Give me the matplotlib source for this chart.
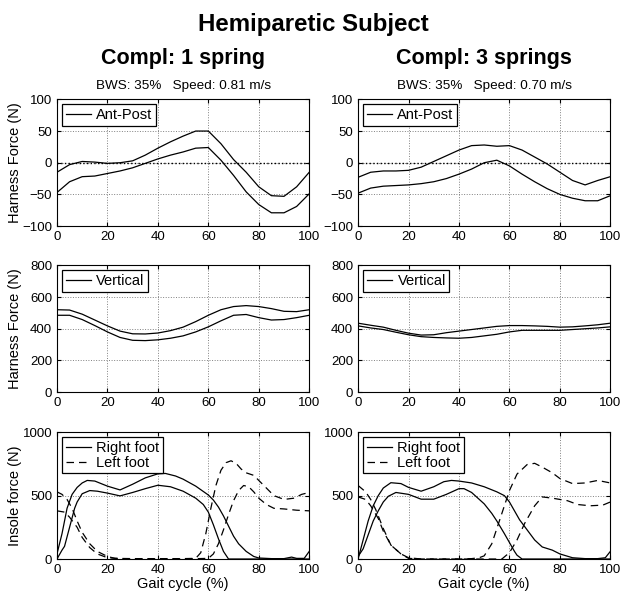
import matplotlib.pyplot as plt

plt.rcParams['font.family'] = ['Liberation Sans', 'DejaVu Sans']

gait = [0, 5, 10, 15, 20, 25, 30, 35, 40, 45, 50, 55, 60, 65, 70, 75, 80, 85, 90, 95, 100]

# harness ant-post force (N), 1 spring / 3 springs
ap1_upper = [-15, -3, 2, 1, -1, 0, 3, 12, 23, 33, 42, 50, 50, 30, 5, -15, -38, -52, -53, -38, -15]
ap1_lower = [-47, -30, -22, -21, -17, -13, -8, -1, 6, 12, 17, 23, 24, 4, -20, -46, -66, -79, -79, -69, -49]
ap2_upper = [-23, -15, -13, -13, -12, -7, 2, 11, 20, 27, 28, 26, 27, 20, 9, -2, -15, -28, -35, -28, -22]
ap2_lower = [-48, -40, -37, -36, -35, -33, -30, -25, -18, -10, 0, 4, -5, -18, -30, -41, -50, -56, -60, -60, -52]

# harness vertical force (N)
vert1_upper = [520, 518, 492, 455, 418, 385, 368, 367, 373, 388, 410, 445, 485, 520, 540, 546, 540, 527, 510, 508, 520]
vert1_lower = [485, 485, 458, 420, 380, 345, 327, 325, 330, 340, 355, 380, 412, 450, 485, 490, 470, 455, 458, 470, 485]
vert2_upper = [435, 422, 410, 390, 372, 360, 362, 375, 385, 395, 405, 415, 420, 420, 418, 415, 410, 412, 418, 425, 435]
vert2_lower = [418, 405, 395, 378, 362, 350, 345, 342, 340, 345, 355, 365, 380, 390, 390, 390, 390, 395, 400, 405, 412]

# insole force (N), 1 spring
r1a_x = [0, 2, 4, 6, 8, 10, 12, 15, 20, 25, 30, 35, 40, 43, 47, 50, 55, 60, 62, 64, 66, 68, 70, 72, 75, 78, 80, 85, 90, 93, 95, 98, 100]
r1a_y = [40, 200, 400, 510, 565, 600, 620, 615, 575, 545, 590, 640, 672, 675, 655, 630, 575, 505, 465, 410, 340, 260, 180, 120, 60, 20, 8, 3, 3, 15, 5, 5, 60]
r1b_x = [0, 2, 3, 5, 7, 8, 10, 13, 16, 20, 25, 30, 35, 40, 45, 50, 55, 58, 60, 62, 64, 66, 68, 80, 100]
r1b_y = [0, 70, 100, 250, 400, 450, 515, 540, 535, 520, 498, 525, 555, 582, 570, 535, 480, 430, 370, 270, 160, 60, 0, 0, 0]
l1a_x = [0, 2, 4, 6, 8, 10, 13, 16, 20, 23, 30, 40, 50, 55, 57, 59, 61, 63, 65, 67, 69, 71, 73, 75, 78, 80, 83, 86, 90, 94, 97, 100]
l1a_y = [530, 510, 470, 400, 300, 210, 120, 60, 20, 5, 3, 3, 3, 5, 50, 200, 400, 580, 700, 760, 775, 755, 710, 680, 660, 620, 560, 500, 470, 480, 510, 525]
l1b_x = [0, 3, 5, 8, 10, 13, 16, 20, 25, 30, 40, 50, 60, 62, 64, 66, 68, 70, 72, 74, 76, 78, 80, 83, 86, 90, 95, 100]
l1b_y = [380, 370, 330, 250, 170, 90, 40, 10, 3, 0, 0, 0, 5, 40, 120, 230, 350, 460, 540, 580, 570, 530, 480, 430, 400, 395, 385, 380]

# insole force (N), 3 springs
r2a_x = [0, 2, 4, 6, 8, 10, 13, 17, 20, 25, 30, 34, 37, 40, 45, 50, 55, 58, 60, 62, 64, 67, 70, 73, 77, 80, 85, 90, 95, 98, 100]
r2a_y = [0, 150, 300, 420, 500, 560, 602, 595, 565, 535, 570, 610, 620, 615, 600, 570, 530, 500, 450, 380, 310, 230, 150, 95, 70, 40, 10, 3, 3, 10, 60]
r2b_x = [0, 2, 4, 6, 8, 10, 12, 15, 20, 25, 30, 35, 40, 42, 45, 50, 53, 55, 58, 60, 62, 63, 65, 80, 100]
r2b_y = [20, 80, 190, 300, 380, 450, 495, 525, 510, 472, 472, 510, 555, 555, 525, 435, 360, 300, 200, 130, 60, 30, 0, 0, 0]
l2a_x = [0, 3, 5, 7, 10, 13, 17, 20, 25, 30, 40, 45, 48, 50, 53, 56, 58, 60, 63, 67, 70, 73, 77, 80, 85, 90, 95, 100]
l2a_y = [580, 530, 470, 390, 240, 110, 40, 5, 0, 0, 0, 3, 10, 25, 120, 300, 420, 540, 670, 745, 755, 725, 680, 635, 595, 600, 620, 600]
l2b_x = [0, 3, 5, 8, 10, 13, 17, 20, 25, 30, 40, 50, 57, 60, 63, 66, 70, 73, 77, 80, 83, 87, 92, 97, 100]
l2b_y = [490, 470, 420, 320, 220, 110, 40, 10, 0, 0, 0, 0, 0, 50, 150, 280, 420, 490, 480, 470, 460, 430, 420, 425, 450]

col_titles = ["Compl: 1 spring", "Compl: 3 springs"]
col_info = ["BWS: 35%   Speed: 0.81 m/s", "BWS: 35%   Speed: 0.70 m/s"]

fig = plt.figure(figsize=(6.26, 5.95), dpi=100)
fig.text(0.5, 0.958, "Hemiparetic Subject", ha='center', va='center', fontsize=17.3, fontweight='bold')

lefts = [0.091, 0.572]
width = 0.403
bottoms = [0.620, 0.341, 0.0605]
height = 0.213
dash = (0, (6, 4))


def style(ax, ylim, yticks):
    ax.set_xlim(0, 100)
    ax.set_ylim(*ylim)
    ax.set_xticks([0, 20, 40, 60, 80, 100])
    ax.set_yticks(yticks)
    ax.grid(True, linestyle=':', color='gray', linewidth=0.7)
    ax.tick_params(direction='in', top=True, right=True, labelsize=9.5, length=3)
    for s in ax.spines.values():
        s.set_linewidth(0.8)


def legend(ax, handles, labels):
    lg = ax.legend(handles, labels, loc='upper left', fontsize=10.5, fancybox=False,
                   edgecolor='k', framealpha=1, borderaxespad=0.35, handlelength=1.7,
                   handletextpad=0.4, borderpad=0.25, labelspacing=0.05)
    lg.get_frame().set_linewidth(0.9)


def ylab(ax, text):
    ax.set_ylabel(text, fontsize=10.5)
    ax.yaxis.set_label_coords(-0.138, 0.5)


ap = [(ap1_upper, ap1_lower), (ap2_upper, ap2_lower)]
vt = [(vert1_upper, vert1_lower), (vert2_upper, vert2_lower)]
ins = [((r1a_x, r1a_y), (r1b_x, r1b_y), (l1a_x, l1a_y), (l1b_x, l1b_y)),
       ((r2a_x, r2a_y), (r2b_x, r2b_y), (l2a_x, l2a_y), (l2b_x, l2b_y))]

for c in range(2):
    cx = lefts[c] + width / 2
    fig.text(cx, 0.902, col_titles[c], ha='center', va='center', fontsize=15.5, fontweight='bold')
    fig.text(cx, 0.855, col_info[c], ha='center', va='center', fontsize=9.7)

    # ant-post
    ax = fig.add_axes([lefts[c], bottoms[0], width, height])
    ax.axhline(0, color='k', linestyle=':', linewidth=1)
    h, = ax.plot(gait, ap[c][0], color='k', lw=0.9)
    ax.plot(gait, ap[c][1], color='k', lw=0.9)
    style(ax, (-100, 100), [-100, -50, 0, 50, 100])
    legend(ax, [h], ["Ant-Post"])
    if c == 0:
        ylab(ax, "Harness Force (N)")

    # vertical
    ax = fig.add_axes([lefts[c], bottoms[1], width, height])
    h, = ax.plot(gait, vt[c][0], color='k', lw=0.9)
    ax.plot(gait, vt[c][1], color='k', lw=0.9)
    style(ax, (0, 800), [0, 200, 400, 600, 800])
    legend(ax, [h], ["Vertical"])
    if c == 0:
        ylab(ax, "Harness Force (N)")

    # insole
    ax = fig.add_axes([lefts[c], bottoms[2], width, height])
    ra, rb, la, lb = ins[c]
    h1, = ax.plot(ra[0], ra[1], color='k', lw=0.9)
    ax.plot(rb[0], rb[1], color='k', lw=0.9)
    h2, = ax.plot(la[0], la[1], color='k', lw=0.9, linestyle=dash)
    ax.plot(lb[0], lb[1], color='k', lw=0.9, linestyle=dash)
    style(ax, (0, 1000), [0, 500, 1000])
    legend(ax, [h1, h2], ["Right foot", "Left foot"])
    ax.set_xlabel("Gait cycle (%)", fontsize=10.5, labelpad=1)
    if c == 0:
        ylab(ax, "Insole force (N)")

fig.savefig("out.png", dpi=100)
